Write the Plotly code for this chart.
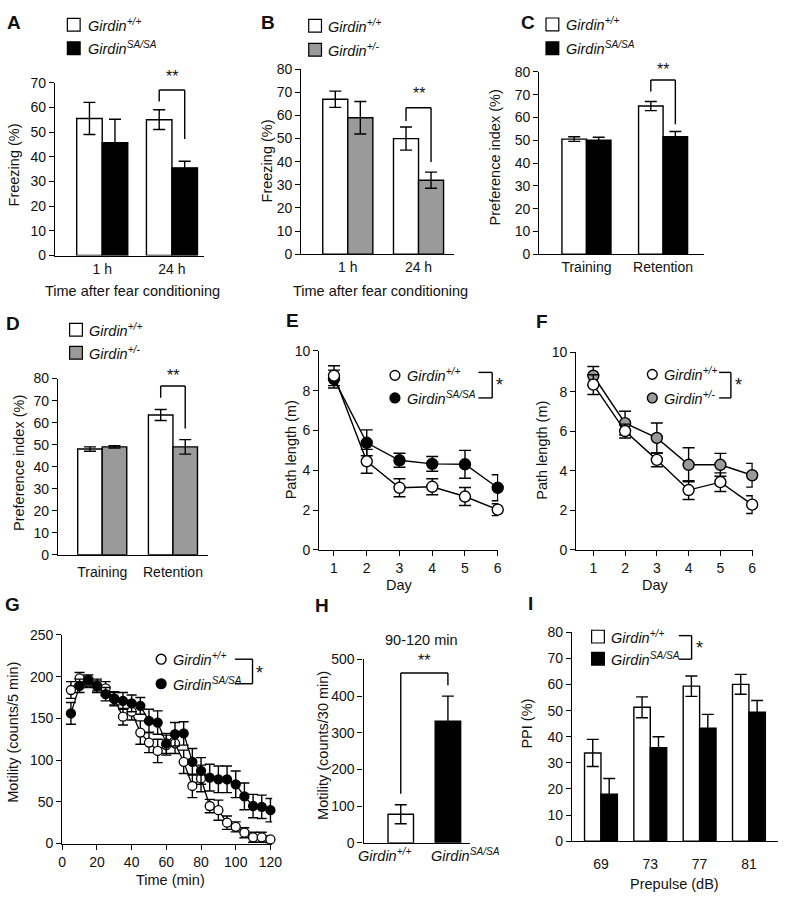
import plotly.graph_objects as go

W, H = 790, 899
FONT = "Arial, Liberation Sans, Helvetica, sans-serif"
GREY = "#9a9a9a"

# ---------------- DATA ----------------
A_cats = ["1 h", "24 h"]
A_wt = [55.5, 55.0]; A_wt_err = [6.5, 4.0]
A_sa = [45.7, 35.5]; A_sa_err = [9.5, 2.7]

B_cats = ["1 h", "24 h"]
B_wt = [67.0, 50.0]; B_wt_err = [3.5, 5.0]
B_het = [59.0, 32.0]; B_het_err = [7.0, 3.5]

C_cats = ["Training", "Retention"]
C_wt = [50.5, 65.0]; C_wt_err = [1.0, 2.0]
C_sa = [50.0, 51.5]; C_sa_err = [1.3, 2.3]

D_cats = ["Training", "Retention"]
D_wt = [48.0, 63.5]; D_wt_err = [1.0, 2.5]
D_het = [49.0, 49.0]; D_het_err = [0.5, 3.3]

days = [1, 2, 3, 4, 5, 6]
E_wt = [8.75, 4.45, 3.12, 3.17, 2.68, 2.02]; E_wt_err = [0.5, 0.6, 0.45, 0.4, 0.45, 0.3]
E_sa = [8.58, 5.38, 4.5, 4.32, 4.3, 3.12]; E_sa_err = [0.45, 0.65, 0.35, 0.37, 0.7, 0.65]

F_wt = [8.37, 6.02, 4.56, 3.03, 3.43, 2.29]; F_wt_err = [0.5, 0.35, 0.35, 0.48, 0.47, 0.45]
F_het = [8.82, 6.42, 5.67, 4.31, 4.31, 3.78]; F_het_err = [0.47, 0.6, 0.76, 0.86, 0.58, 0.6]

G_time = [5, 10, 15, 20, 25, 30, 35, 40, 45, 50, 55, 60,
          65, 70, 75, 80, 85, 90, 95, 100, 105, 110, 115, 120]
G_wt = [184, 198, 193, 189, 186, 173, 152, 158, 133, 121, 111, 118,
        120, 98, 69, 78, 45, 40, 25, 20, 13, 7.5, 7.5, 5]
G_wt_err = [10, 7, 6, 8, 8, 8, 10, 10, 14, 12, 14, 12,
            12, 14, 14, 16, 8, 12, 8, 6, 6, 6, 6, 4]
G_sa = [156, 189, 196, 189, 179, 174, 171, 168, 165, 147, 145, 120,
        131, 132, 98, 87, 79, 77, 77, 71, 56.5, 45, 44, 40]
G_sa_err = [13, 8, 6, 6, 8, 8, 10, 10, 10, 14, 14, 12,
            14, 14, 16, 16, 16, 16, 16, 16, 16, 14, 14, 14]

H_cats = ["<i>Girdin<sup>+/+</sup></i>", "<i>Girdin<sup>SA/SA</sup></i>"]
H_vals = [78, 332]; H_err = [26, 68]

I_cats = ["69", "73", "77", "81"]
I_wt = [33.8, 51.3, 59.4, 60.1]; I_wt_err = [5.2, 4.0, 3.9, 3.8]
I_sa = [18.0, 35.8, 43.3, 49.4]; I_sa_err = [6.0, 4.2, 5.3, 4.5]

LBL_WT = "<i>Girdin<sup>+/+</sup></i>"
LBL_SA = "<i>Girdin<sup>SA/SA</sup></i>"
LBL_HET = "<i>Girdin<sup>+/-</sup></i>"

# ---------------- helpers ----------------
def px(x): return x / W
def py(y): return 1 - y / H

def sfx(n): return "" if n == 1 else str(n)

fig = go.Figure()
layout = dict(width=W, height=H, margin=dict(l=0, r=0, t=0, b=0),
              paper_bgcolor="white", plot_bgcolor="white",
              showlegend=False, barmode="overlay",
              font=dict(family=FONT, size=14, color="#111"))
shapes, annots = [], []

def axes(n, xd, yd, xr, yr, ydt, xtype="category", xdt=None, xpad=0, xlabels=True):
    s = sfx(n)
    xa = dict(domain=[px(xd[0]), px(xd[1])], anchor="y" + s, range=xr,
              showline=True, linecolor="black", linewidth=1.4, showgrid=False,
              zeroline=False, ticks="outside", tickwidth=1.4,
              tickfont=dict(size=14, color="#111"), fixedrange=True,
              tickangle=0, showticklabels=xlabels)
    if xtype == "category":
        xa["type"] = "category"
        # category axes carry no visible tick marks; an invisible tick sets label spacing
        xa["ticklen"] = max(xpad, 0.01)
        xa["tickcolor"] = "rgba(255,255,255,0)"
    else:
        xa["dtick"] = xdt
        xa["tick0"] = 0
        xa["ticklen"] = 5
        xa["tickcolor"] = "black"
    ya = dict(domain=[py(yd[1]), py(yd[0])], anchor="x" + s, range=yr, dtick=ydt,
              showline=True, linecolor="black", linewidth=1.4, showgrid=False,
              zeroline=False, ticks="outside", ticklen=5, tickwidth=1.4, tickcolor="black",
              tickfont=dict(size=14, color="#111"), fixedrange=True)
    layout["xaxis" + s] = xa
    layout["yaxis" + s] = ya

EB = lambda arr, w=6: dict(type="data", array=arr, visible=True, color="black",
                            thickness=1.4, width=w)

def bar(n, cats, vals, err, color, width, offset):
    s = sfx(n)
    fig.add_trace(go.Bar(x=cats, y=vals, error_y=EB(err), width=width, offset=offset,
                         marker=dict(color=color, line=dict(color="black", width=1.4)),
                         xaxis="x" + s, yaxis="y" + s))

def line(n, x0, y0, x1, y1, ref=True):
    s = sfx(n)
    if ref:
        shapes.append(dict(type="line", xref="x" + s, yref="y" + s, x0=x0, y0=y0, x1=x1, y1=y1,
                           line=dict(color="black", width=1.4)))
    else:
        shapes.append(dict(type="line", xref="paper", yref="paper", x0=px(x0), y0=py(y0),
                           x1=px(x1), y1=py(y1), line=dict(color="black", width=1.4)))

def txt(x, y, s, size=14, xa="center", ya="middle", angle=0, bold=False):
    if bold:
        s = "<b>" + s + "</b>"
    annots.append(dict(x=px(x), y=py(y), xref="paper", yref="paper", text=s, showarrow=False,
                       xanchor=xa, yanchor=ya, textangle=angle,
                       font=dict(size=size, color="#111", family=FONT)))

def sig(n, w, yl, top, yr, i=1):
    xl, xrr = i - w / 2, i + w / 2
    line(n, xl, yl, xl, top)
    line(n, xl, top, xrr, top)
    line(n, xrr, top, xrr, yr)

def sq_legend(xc, ys, fills, labels, tx):
    for y, f, lab in zip(ys, fills, labels):
        shapes.append(dict(type="rect", xref="paper", yref="paper",
                           x0=px(xc - 6.5), x1=px(xc + 6.5), y0=py(y + 6.5), y1=py(y - 6.5),
                           fillcolor=f, line=dict(color="black", width=1.2)))
        txt(tx, y, lab, size=14.5, xa="left")

def circ_legend(xc, ys, fills, labels, tx, r=5):
    for y, f, lab in zip(ys, fills, labels):
        shapes.append(dict(type="circle", xref="paper", yref="paper",
                           x0=px(xc - r), x1=px(xc + r), y0=py(y + r), y1=py(y - r),
                           fillcolor=f, line=dict(color="black", width=1.4)))
        txt(tx, y, lab, size=14.5, xa="left")

def bracket_star(x0, x1, y0, y1, sx, sy):
    line(0, x0, y0, x1, y0, ref=False)
    line(0, x1, y0, x1, y1, ref=False)
    line(0, x0, y1, x1, y1, ref=False)
    txt(sx, sy, "*", size=18)

TS = 14.5  # title size

# ---------------- Panel A ----------------
wA = 0.366
axes(1, (52, 204), (76, 252), [-0.676, 1.465], [0, 70], 10, xpad=0)
bar(1, A_cats, A_wt, A_wt_err, "white", wA, -wA)
bar(1, A_cats, A_sa, A_sa_err, "black", wA, 0)
sig(1, wA, 62.4, 67, 47.2)
txt(171, 70, "**", size=16)
sq_legend(71, [17, 41], ["white", "black"], [LBL_WT, LBL_SA], 83)
txt(10.5, 160, "Freezing (%)", size=TS, angle=-90)
txt(131, 288, "Time after fear conditioning", size=TS)
txt(10, 15, "A", size=19, bold=True)

# ---------------- Panel B ----------------
wB = 0.354
axes(2, (302.7, 458), (62.3, 250.7), [-0.657, 1.5], [0, 80], 10, xpad=0)
bar(2, B_cats, B_wt, B_wt_err, "white", wB, -wB)
bar(2, B_cats, B_het, B_het_err, GREY, wB, 0)
sig(2, wB, 57.6, 63.3, 39.9)
txt(422, 87, "**", size=16)
sq_legend(316.7, [18, 42.5], ["white", GREY], [LBL_WT, LBL_HET], 328)
txt(268, 156, "Freezing (%)", size=TS, angle=-90)
txt(383, 288, "Time after fear conditioning", size=TS)
txt(269, 15, "B", size=19, bold=True)

# ---------------- Panel C ----------------
wC = 0.32
axes(3, (545, 712.7), (65, 250.7), [-0.615, 1.535], [0, 80], 10, xpad=0)
bar(3, C_cats, C_wt, C_wt_err, "white", wC, -wC)
bar(3, C_cats, C_sa, C_sa_err, "black", wC, 0)
sig(3, wC, 71.4, 76.4, 57.0)
txt(671, 63, "**", size=16)
sq_legend(558.3, [16.7, 41], ["white", "black"], [LBL_WT, LBL_SA], 570)
txt(500, 152, "Preference index (%)", size=TS, angle=-90)
txt(533, 15, "C", size=19, bold=True)

# ---------------- Panel D ----------------
wD = 0.347
axes(4, (55, 208), (377.3, 556.7), [-0.625, 1.5], [0, 80], 10, xpad=4)
bar(4, D_cats, D_wt, D_wt_err, "white", wD, -wD)
bar(4, D_cats, D_het, D_het_err, GREY, wD, 0)
sig(4, wD, 71.3, 76.6, 57.3)
txt(172, 374, "**", size=16)
sq_legend(73.3, [327.5, 351], ["white", GREY], [LBL_WT, LBL_HET], 85)
txt(15.5, 463, "Preference index (%)", size=TS, angle=-90)
txt(9, 321, "D", size=19, bold=True)

# ---------------- Panel E ----------------
axes(5, (321, 503.3), (349, 551.7), [0.552, 6.02], [0, 10], 2, xtype="linear", xdt=1)
for yv, ev, fc in [(E_sa, E_sa_err, "black"), (E_wt, E_wt_err, "white")]:
    fig.add_trace(go.Scatter(x=days, y=yv, error_y=EB(ev, 6), mode="lines+markers",
                             line=dict(color="black", width=1.4),
                             marker=dict(size=11, color=fc, line=dict(color="black", width=1.4)),
                             cliponaxis=False, xaxis="x5", yaxis="y5"))
circ_legend(398, [374, 397], ["white", "black"], [LBL_WT, LBL_SA], 408)
bracket_star(483, 497, 371, 397, 504, 384)
txt(292.5, 450, "Path length (m)", size=TS, angle=-90)
txt(403, 587, "Day", size=TS)
txt(293.5, 318.5, "E", size=19, bold=True)

# ---------------- Panel F ----------------
axes(6, (582.7, 762.3), (350.7, 551.7), [0.467, 6.02], [0, 10], 2, xtype="linear", xdt=1)
for yv, ev, fc in [(F_het, F_het_err, GREY), (F_wt, F_wt_err, "white")]:
    fig.add_trace(go.Scatter(x=days, y=yv, error_y=EB(ev, 6), mode="lines+markers",
                             line=dict(color="black", width=1.4),
                             marker=dict(size=11, color=fc, line=dict(color="black", width=1.4)),
                             cliponaxis=False, xaxis="x6", yaxis="y6"))
circ_legend(660, [373, 397], ["white", GREY], [LBL_WT, LBL_HET], 670)
bracket_star(728, 740, 371, 397, 748, 384)
txt(547.5, 450, "Path length (m)", size=TS, angle=-90)
txt(663, 587, "Day", size=TS)
txt(547.5, 319, "F", size=19, bold=True)

# ---------------- Panel G ----------------
axes(7, (59.3, 273), (638.3, 850.7), [0, 121], [0, 250], 50, xtype="linear", xdt=20)
for yv, ev, fc in [(G_wt, G_wt_err, "white"), (G_sa, G_sa_err, "black")]:
    fig.add_trace(go.Scatter(x=G_time, y=yv, error_y=EB(ev, 5), mode="lines+markers",
                             line=dict(color="black", width=1.3),
                             marker=dict(size=9, color=fc, line=dict(color="black", width=1.3)),
                             cliponaxis=False, xaxis="x7", yaxis="y7"))
circ_legend(160, [663, 688], ["white", "black"], [LBL_WT, LBL_SA], 170, r=5)
bracket_star(235, 253, 663, 688, 260, 677)
txt(9, 737, "Motility (counts/5 min)", size=TS, angle=-90)
txt(170, 888, "Time (min)", size=TS)
txt(8.5, 607.5, "G", size=19, bold=True)

# ---------------- Panel H ----------------
axes(8, (366, 474), (663.3, 850), [-0.79, 1.46], [0, 500], 100, xlabels=False)
fig.add_trace(go.Bar(x=H_cats, y=H_vals, error_y=EB(H_err), width=0.54,
                     marker=dict(color=["white", "black"], line=dict(color="black", width=1.4)),
                     xaxis="x8", yaxis="y8"))
line(8, 0, 134, 0, 463)
line(8, 0, 463, 1, 463)
line(8, 1, 463, 1, 430)
txt(416, 862, H_cats[0], size=14.5, xa="right")
txt(433, 862, H_cats[1], size=14.5, xa="left")
txt(428, 664, "**", size=16)
txt(425, 643, "90-120 min", size=TS)
txt(324, 751, "Motility (counts/30 min)", size=TS, angle=-90)
txt(323.3, 608.5, "H", size=19, bold=True)

# ---------------- Panel I ----------------
wI = 0.333
axes(9, (578.3, 788), (635.7, 848.3), [-0.586, 3.59], [0, 80], 10, xpad=10)
bar(9, I_cats, I_wt, I_wt_err, "white", wI, -wI)
bar(9, I_cats, I_sa, I_sa_err, "black", wI, 0)
sq_legend(604.7, [640, 662.5], ["white", "black"], [LBL_WT, LBL_SA], 616)
bracket_star(687, 700, 639, 663, 708, 652)
txt(532, 729, "PPI (%)", size=TS, angle=-90)
txt(683, 892, "Prepulse (dB)", size=TS)
txt(536.5, 606.5, "I", size=19, bold=True)

layout["shapes"] = shapes
layout["annotations"] = annots
fig.update_layout(**layout)
fig.write_html("out.html", config={"displayModeBar": False},
               post_script="document.body.style.margin='0';document.body.style.overflow='hidden';")
